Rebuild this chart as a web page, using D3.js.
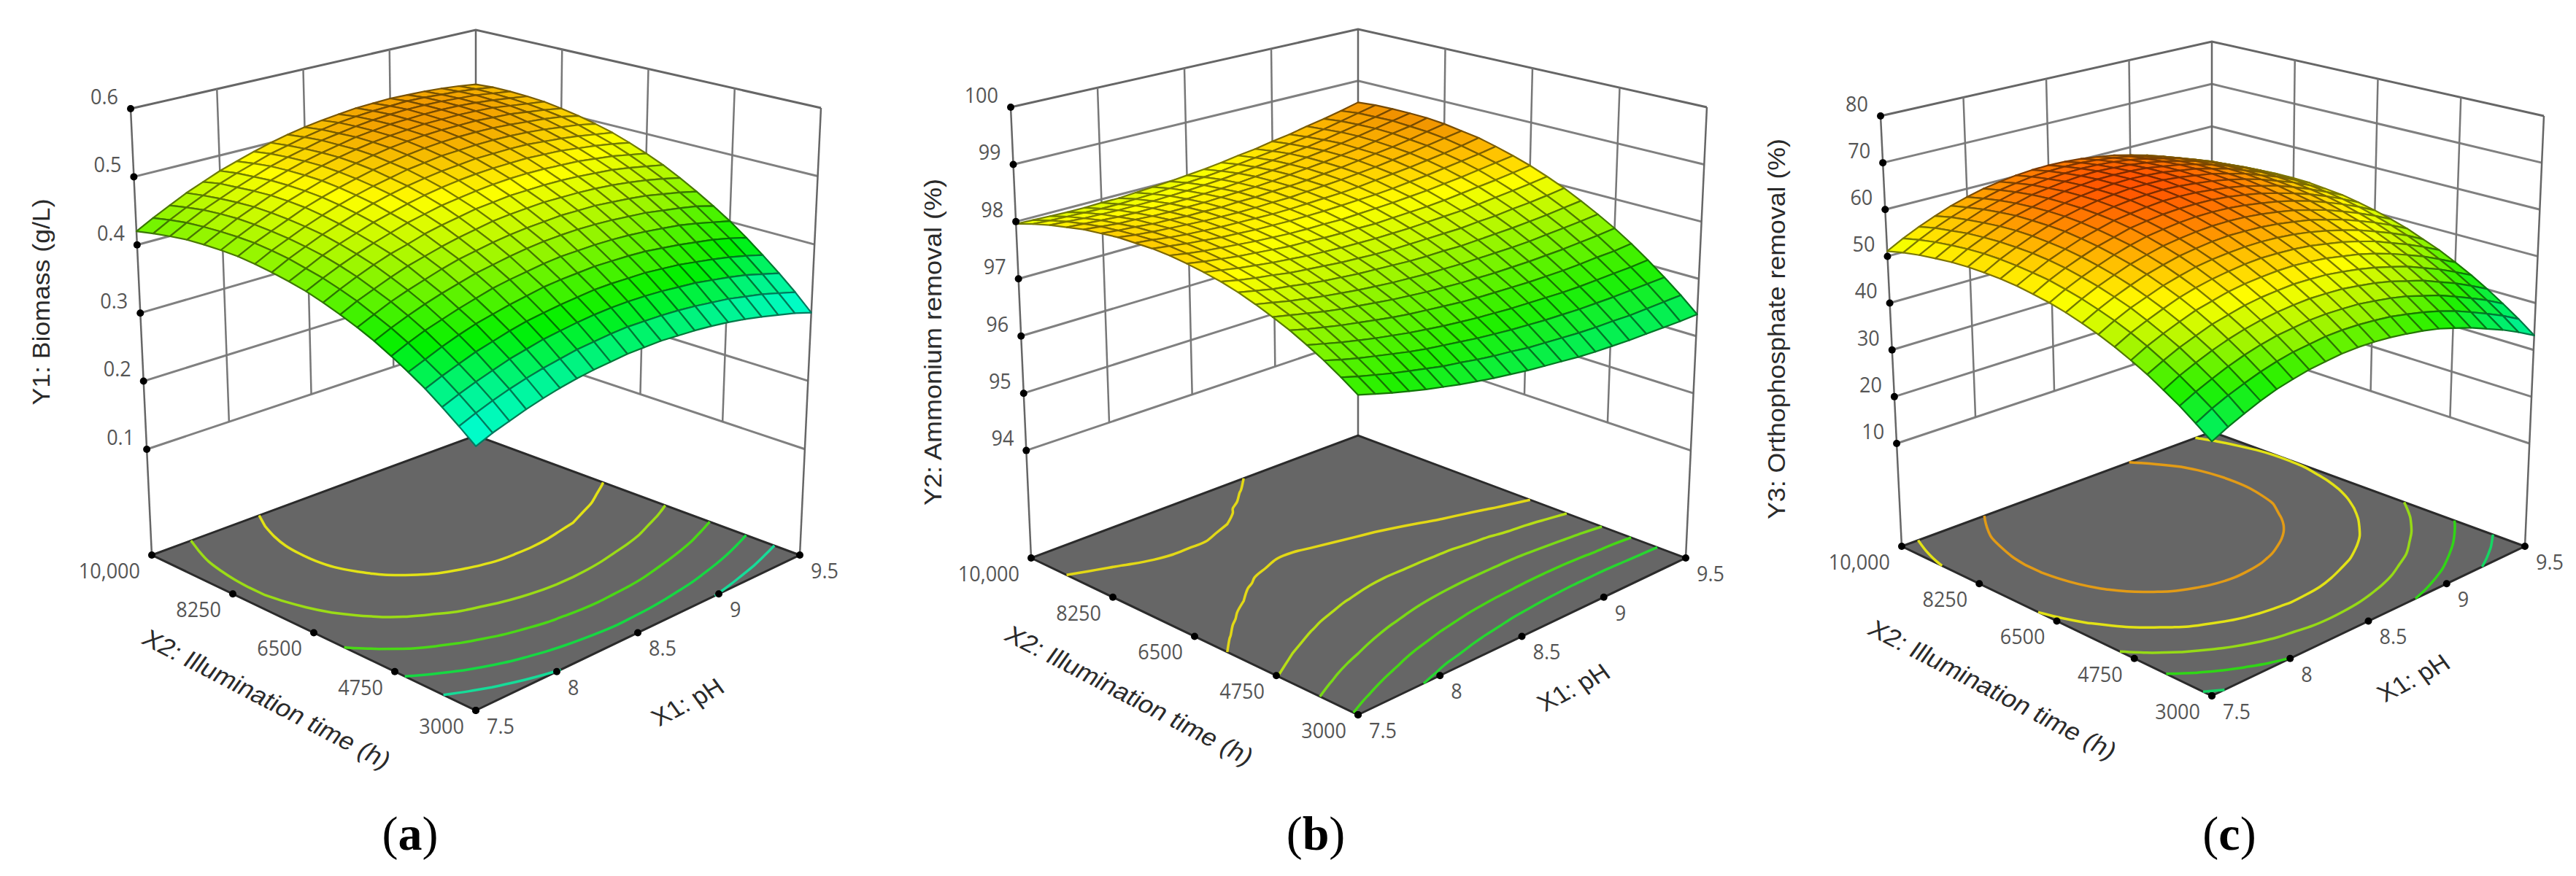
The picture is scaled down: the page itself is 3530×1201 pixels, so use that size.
<!DOCTYPE html>
<html>
<head>
<meta charset="utf-8">
<title>Response surfaces</title>
<script src="https://cdn.jsdelivr.net/npm/d3@7"></script>
<style>
  html, body { margin: 0; background: #fff; }
  svg { display: block; }
</style>
</head>
<body>
<div id="chart"></div>
<script>
// axis ticks
const x1Ticks = [7.5, 8, 8.5, 9, 9.5];
const x2Ticks = [3000, 4750, 6500, 8250, 10000];
const x2TickLabels = ["3000", "4750", "6500", "8250", "10,000"];
const biomassTicks = [0.1, 0.2, 0.3, 0.4, 0.5, 0.6];
const ammoniumTicks = [94, 95, 96, 97, 98, 99, 100];
const orthoTicks = [10, 20, 30, 40, 50, 60, 70, 80];

// floor contour levels
const biomassLevels = [0.49, 0.45, 0.41, 0.37, 0.335];
const ammoniumLevels = [98.15, 97.85, 97.5, 97.15, 96.8];
const orthoLevels = [58.5, 53, 48, 43, 38];

// surface values: one row per X2 step (3000 -> 10000), one column per X1 step (7.5 -> 9.5)
const biomassGrid = [
  [.300,.309,.316,.323,.329,.334,.338,.341,.343,.345,.345,.345,.343,.341,.338,.334,.329,.323,.316,.309,.300],
  [.318,.327,.335,.342,.348,.353,.357,.361,.363,.365,.366,.365,.364,.362,.359,.355,.351,.345,.339,.331,.323],
  [.335,.344,.352,.359,.366,.371,.376,.379,.382,.384,.385,.385,.384,.382,.379,.376,.371,.366,.360,.352,.344],
  [.351,.360,.368,.376,.382,.388,.393,.396,.399,.401,.403,.403,.402,.401,.398,.395,.390,.385,.379,.372,.364],
  [.365,.374,.383,.391,.398,.403,.408,.412,.416,.418,.419,.420,.419,.418,.416,.412,.408,.403,.398,.391,.383],
  [.378,.388,.397,.404,.411,.417,.423,.427,.430,.433,.435,.435,.435,.434,.432,.429,.425,.421,.415,.408,.401],
  [.390,.400,.409,.417,.424,.430,.436,.440,.444,.447,.449,.450,.450,.449,.447,.444,.441,.436,.431,.425,.417],
  [.400,.410,.420,.428,.435,.442,.448,.452,.456,.459,.461,.462,.463,.462,.461,.458,.455,.451,.445,.439,.432],
  [.409,.420,.429,.438,.446,.452,.458,.463,.467,.471,.473,.474,.475,.474,.473,.471,.468,.464,.459,.453,.446],
  [.417,.428,.438,.447,.455,.461,.468,.473,.477,.481,.483,.485,.485,.485,.484,.482,.479,.476,.471,.465,.459],
  [.424,.435,.445,.454,.462,.469,.476,.481,.486,.489,.492,.494,.495,.495,.494,.492,.490,.486,.482,.476,.470],
  [.429,.440,.451,.460,.468,.476,.482,.488,.493,.497,.500,.502,.503,.503,.503,.501,.499,.495,.491,.486,.480],
  [.433,.445,.455,.465,.473,.481,.488,.494,.499,.503,.506,.508,.510,.510,.510,.509,.506,.503,.499,.494,.489],
  [.436,.448,.458,.468,.477,.485,.492,.498,.503,.508,.511,.514,.515,.516,.516,.515,.513,.510,.506,.502,.496],
  [.438,.450,.460,.470,.480,.488,.495,.501,.507,.511,.515,.518,.520,.521,.521,.520,.518,.515,.512,.508,.502],
  [.438,.450,.461,.471,.481,.489,.497,.503,.509,.514,.518,.521,.523,.524,.524,.524,.522,.520,.516,.512,.507],
  [.437,.449,.461,.471,.481,.489,.497,.504,.510,.515,.519,.522,.524,.526,.526,.526,.525,.523,.519,.515,.511],
  [.435,.447,.459,.469,.479,.488,.496,.503,.509,.514,.519,.522,.525,.526,.527,.527,.526,.524,.521,.517,.513],
  [.431,.444,.456,.466,.476,.485,.494,.501,.507,.513,.517,.521,.524,.526,.527,.527,.526,.524,.522,.518,.514],
  [.426,.439,.451,.462,.473,.482,.490,.498,.504,.510,.515,.519,.522,.524,.525,.526,.525,.523,.521,.518,.514],
  [.420,.433,.445,.457,.467,.477,.485,.493,.500,.506,.511,.515,.518,.521,.522,.523,.522,.521,.519,.516,.512]
];
const ammoniumGrid = [
  [97.10,97.02,96.94,96.87,96.80,96.74,96.68,96.63,96.58,96.54,96.50,96.47,96.44,96.41,96.39,96.38,96.37,96.37,96.37,96.37,96.38],
  [97.28,97.20,97.13,97.06,97.00,96.94,96.88,96.84,96.79,96.75,96.72,96.68,96.66,96.64,96.62,96.61,96.61,96.60,96.61,96.62,96.63],
  [97.45,97.37,97.30,97.24,97.18,97.12,97.07,97.03,96.99,96.95,96.92,96.89,96.87,96.85,96.84,96.83,96.83,96.83,96.84,96.85,96.86],
  [97.60,97.53,97.46,97.40,97.34,97.29,97.24,97.20,97.16,97.13,97.10,97.08,97.06,97.05,97.04,97.03,97.03,97.04,97.05,97.06,97.08],
  [97.74,97.67,97.61,97.55,97.50,97.45,97.40,97.36,97.33,97.30,97.27,97.25,97.24,97.23,97.22,97.22,97.22,97.23,97.25,97.26,97.29],
  [97.86,97.80,97.74,97.68,97.63,97.59,97.55,97.51,97.48,97.45,97.43,97.41,97.40,97.39,97.39,97.39,97.40,97.41,97.43,97.45,97.48],
  [97.97,97.91,97.85,97.80,97.75,97.71,97.67,97.64,97.61,97.59,97.57,97.56,97.55,97.55,97.55,97.55,97.56,97.58,97.60,97.62,97.65],
  [98.07,98.01,97.95,97.91,97.86,97.82,97.79,97.76,97.74,97.72,97.70,97.69,97.69,97.68,97.69,97.70,97.71,97.73,97.75,97.78,97.81],
  [98.15,98.09,98.04,98.00,97.95,97.92,97.89,97.86,97.84,97.82,97.81,97.81,97.81,97.81,97.81,97.83,97.84,97.87,97.89,97.92,97.96],
  [98.21,98.16,98.11,98.07,98.03,98.00,97.97,97.95,97.93,97.92,97.91,97.91,97.91,97.92,97.93,97.94,97.96,97.99,98.02,98.05,98.09],
  [98.26,98.21,98.17,98.13,98.10,98.07,98.04,98.03,98.01,98.00,98.00,97.99,98.00,98.01,98.02,98.04,98.07,98.10,98.13,98.17,98.21],
  [98.30,98.25,98.21,98.18,98.15,98.12,98.10,98.08,98.07,98.07,98.06,98.07,98.08,98.09,98.11,98.13,98.16,98.19,98.23,98.27,98.31],
  [98.32,98.28,98.24,98.21,98.18,98.16,98.14,98.13,98.12,98.12,98.12,98.13,98.14,98.15,98.17,98.20,98.23,98.27,98.31,98.35,98.40],
  [98.32,98.29,98.25,98.22,98.20,98.18,98.17,98.16,98.15,98.15,98.16,98.17,98.18,98.20,98.23,98.26,98.29,98.33,98.37,98.42,98.48],
  [98.32,98.28,98.25,98.23,98.21,98.19,98.18,98.17,98.17,98.18,98.18,98.20,98.22,98.24,98.27,98.30,98.34,98.38,98.43,98.48,98.53],
  [98.29,98.26,98.24,98.21,98.20,98.18,98.18,98.17,98.18,98.18,98.20,98.21,98.23,98.26,98.29,98.33,98.37,98.41,98.46,98.52,98.58],
  [98.26,98.23,98.20,98.19,98.17,98.16,98.16,98.16,98.17,98.18,98.19,98.21,98.24,98.27,98.30,98.34,98.38,98.43,98.49,98.54,98.61],
  [98.20,98.18,98.16,98.14,98.13,98.13,98.13,98.13,98.14,98.15,98.17,98.20,98.23,98.26,98.30,98.34,98.39,98.44,98.50,98.56,98.62],
  [98.14,98.12,98.10,98.09,98.08,98.08,98.08,98.09,98.10,98.12,98.14,98.17,98.20,98.24,98.28,98.32,98.37,98.43,98.49,98.55,98.62],
  [98.06,98.04,98.03,98.02,98.01,98.01,98.02,98.03,98.05,98.07,98.09,98.12,98.16,98.20,98.24,98.29,98.34,98.40,98.47,98.54,98.61],
  [97.96,97.95,97.94,97.93,97.93,97.94,97.94,97.96,97.98,98.00,98.03,98.06,98.10,98.15,98.19,98.25,98.30,98.37,98.43,98.50,98.58]
];
const orthoGrid = [
  [36.7,38.3,39.7,41.0,42.1,42.9,43.6,44.0,44.4,44.5,44.4,44.1,43.6,43.0,42.2,41.1,39.9,38.4,36.9,35.1,33.1],
  [39.0,40.7,42.1,43.3,44.4,45.3,46.0,46.4,46.8,46.9,46.8,46.5,46.1,45.4,44.6,43.6,42.4,40.9,39.3,37.6,35.6],
  [41.2,42.8,44.2,45.5,46.6,47.5,48.2,48.6,49.0,49.1,49.0,48.8,48.3,47.7,46.9,45.8,44.7,43.2,41.6,39.9,37.9],
  [43.1,44.8,46.2,47.5,48.6,49.5,50.2,50.7,51.0,51.2,51.1,50.9,50.4,49.8,49.0,47.9,46.8,45.3,43.8,42.0,40.1],
  [45.0,46.6,48.1,49.3,50.5,51.3,52.1,52.6,52.9,53.1,53.0,52.8,52.3,51.7,50.9,49.9,48.8,47.3,45.8,44.0,42.1],
  [46.6,48.3,49.7,51.0,52.2,53.0,53.8,54.3,54.6,54.8,54.8,54.5,54.1,53.4,52.7,51.7,50.5,49.1,47.6,45.8,43.9],
  [48.1,49.8,51.2,52.5,53.7,54.6,55.3,55.8,56.2,56.4,56.3,56.1,55.7,55.0,54.3,53.3,52.2,50.7,49.2,47.5,45.6],
  [49.4,51.1,52.6,53.8,55.0,55.9,56.7,57.2,57.5,57.7,57.7,57.5,57.1,56.5,55.7,54.7,53.6,52.2,50.7,49.0,47.0],
  [50.5,52.2,53.7,55.0,56.2,57.1,57.9,58.4,58.8,59.0,58.9,58.7,58.3,57.7,57.0,56.0,54.9,53.5,52.0,50.3,48.4],
  [51.5,53.2,54.7,56.0,57.2,58.1,58.9,59.4,59.8,60.0,60.0,59.8,59.4,58.8,58.1,57.1,56.0,54.6,53.1,51.4,49.5],
  [52.3,54.0,55.5,56.8,58.0,59.0,59.8,60.3,60.7,60.9,60.9,60.7,60.3,59.7,59.0,58.1,57.0,55.6,54.1,52.4,50.5],
  [52.9,54.7,56.2,57.5,58.7,59.6,60.5,61.0,61.4,61.6,61.6,61.5,61.1,60.5,59.8,58.8,57.7,56.4,54.9,53.2,51.3],
  [53.4,55.1,56.7,58.0,59.2,60.1,61.0,61.5,61.9,62.2,62.2,62.0,61.6,61.1,60.4,59.4,58.4,57.0,55.5,53.8,52.0],
  [53.7,55.4,57.0,58.3,59.6,60.5,61.3,61.9,62.3,62.5,62.6,62.4,62.0,61.5,60.8,59.9,58.8,57.4,56.0,54.3,52.4],
  [53.8,55.6,57.1,58.5,59.7,60.7,61.5,62.1,62.5,62.8,62.8,62.7,62.3,61.7,61.1,60.1,59.1,57.7,56.3,54.6,52.8],
  [53.8,55.6,57.1,58.5,59.7,60.7,61.5,62.1,62.5,62.8,62.9,62.7,62.4,61.8,61.2,60.2,59.2,57.8,56.4,54.7,52.9],
  [53.6,55.4,56.9,58.3,59.6,60.5,61.4,62.0,62.4,62.7,62.7,62.6,62.3,61.7,61.1,60.2,59.1,57.8,56.4,54.7,52.9],
  [53.2,55.0,56.6,57.9,59.2,60.2,61.1,61.6,62.1,62.4,62.5,62.3,62.0,61.5,60.8,59.9,58.9,57.6,56.1,54.5,52.7],
  [52.7,54.5,56.0,57.4,58.7,59.7,60.6,61.2,61.6,61.9,62.0,61.9,61.6,61.1,60.4,59.5,58.5,57.2,55.8,54.1,52.3],
  [52.0,53.8,55.4,56.8,58.0,59.0,59.9,60.5,61.0,61.3,61.4,61.3,61.0,60.5,59.9,58.9,57.9,56.6,55.2,53.6,51.8],
  [51.1,52.9,54.5,55.9,57.2,58.2,59.1,59.7,60.2,60.5,60.6,60.5,60.2,59.7,59.1,58.2,57.2,55.9,54.5,52.9,51.1]
];

const width = 3530, height = 1201;

// where each box sits on the page (floor and top corners) plus text spots
const panels = [
  {
    grid: biomassGrid, ticks: biomassTicks, levels: biomassLevels, tickFormat: d3.format(".1f"),
    floor: { front: [652, 974], right: [1096, 761], left: [208, 761], back: [652, 597] },
    top: { front: [652, 306], right: [1125, 148], left: [179, 149], back: [652, 41] },
    lowTick: 0.237,
    colorDomain: [0.30, 0.345, 0.385, 0.44, 0.49, 0.53],
    colorRange: ["#00ffe0", "#00f590", "#00f000", "#90f500", "#ffff00", "#f09000"],
    yTitle: "Y1: Biomass (g/L)", yPos: [56, 414], yLen: 283,
    x2Pos: [366, 958], x1Pos: [942, 962], tag: "a", tagPos: [562, 1143]
  },
  {
    grid: ammoniumGrid, ticks: ammoniumTicks, levels: ammoniumLevels, tickFormat: d3.format("d"),
    floor: { front: [1861, 980], right: [2310, 765], left: [1413, 765], back: [1861, 597] },
    top: { front: [1861, 286], right: [2339, 147], left: [1385, 147], back: [1861, 40] },
    lowTick: 0.2385,
    colorDomain: [96.4, 97, 97.6, 98.1, 98.35, 98.6],
    colorRange: ["#00f060", "#20f000", "#90f500", "#ffff00", "#ffc000", "#f09000"],
    yTitle: "Y2: Ammonium removal (%)", yPos: [1278, 469], yLen: 448,
    x2Pos: [1548, 953], x1Pos: [2156, 942], tag: "b", tagPos: [1803, 1143]
  },
  {
    grid: orthoGrid, ticks: orthoTicks, levels: orthoLevels, tickFormat: d3.format("d"),
    floor: { front: [3031, 954], right: [3460, 749], left: [2606, 749], back: [3031, 592] },
    top: { front: [3031, 295], right: [3486, 159], left: [2577, 159], back: [3031, 57] },
    lowTick: 0.239,
    colorDomain: [33, 38, 43, 48, 53, 58, 63],
    colorRange: ["#00f0b0", "#00f060", "#20f000", "#a0f500", "#ffff00", "#ffb000", "#ff5000"],
    yTitle: "Y3: Orthophosphate removal (%)", yPos: [2434, 451], yLen: 522,
    x2Pos: [2731, 945], x1Pos: [3307, 929], tag: "c", tagPos: [3055, 1143]
  }
];

const svg = d3.select("#chart").append("svg")
  .attr("width", width)
  .attr("height", height)
  .style("background", "#fff");

const lineGen = d3.line();

function lerp(a, b, t) { return a + (b - a) * t; }

function drawPanel(p) {
  const g = svg.append("g");
  const n = p.grid[0].length;

  // s runs along X1, r along X2, t up the box
  const sScale = d3.scaleLinear().domain(d3.extent(x1Ticks)).range([0, 1]);
  const rScale = d3.scaleLinear().domain(d3.extent(x2Ticks)).range([0, 1]);
  const tScale = d3.scaleLinear().domain(d3.extent(p.ticks)).range([p.lowTick, 1]);
  const sIndex = d3.scaleLinear().domain([0, n - 1]).range(d3.extent(x1Ticks));
  const rIndex = d3.scaleLinear().domain([0, n - 1]).range(d3.extent(x2Ticks));
  const color = d3.scaleLinear().domain(p.colorDomain).range(p.colorRange).clamp(true);

  function corner(c, s, r, k) {
    const a = lerp(c.front[k], c.right[k], s);
    const b = lerp(c.left[k], c.back[k], s);
    return lerp(a, b, r);
  }
  function project(s, r, t) {
    return [
      lerp(corner(p.floor, s, r, 0), corner(p.top, s, r, 0), t),
      lerp(corner(p.floor, s, r, 1), corner(p.top, s, r, 1), t)
    ];
  }

  const zLow = d3.min(p.ticks), zHigh = d3.max(p.ticks);

  // back walls: horizontal grid
  const hLines = [];
  p.ticks.forEach(z => {
    const t = tScale(z);
    hLines.push({ pts: [project(0, 1, t), project(1, 1, t), project(1, 0, t)], top: z === zHigh });
  });
  g.append("g").selectAll("path").data(hLines).join("path")
    .attr("d", d => lineGen(d.pts))
    .attr("fill", "none")
    .attr("stroke", d => d.top ? "#666" : "#808080")
    .attr("stroke-width", 3);

  // back walls: vertical grid, stops at the lowest tick
  const vLines = [];
  x1Ticks.slice(1, -1).forEach(x => vLines.push([project(sScale(x), 1, tScale(zLow)), project(sScale(x), 1, 1)]));
  x2Ticks.slice(1, -1).forEach(x => vLines.push([project(1, rScale(x), tScale(zLow)), project(1, rScale(x), 1)]));
  g.append("g").selectAll("path").data(vLines).join("path")
    .attr("d", d => lineGen(d))
    .attr("fill", "none")
    .attr("stroke", "#777")
    .attr("stroke-width", 2.5);

  // the three corner posts go down to the floor
  const posts = [[0, 1], [1, 1], [1, 0]].map(c => [project(c[0], c[1], 0), project(c[0], c[1], 1)]);
  g.append("g").selectAll("path").data(posts).join("path")
    .attr("d", d => lineGen(d))
    .attr("fill", "none")
    .attr("stroke", "#666")
    .attr("stroke-width", 2.5);

  // floor
  g.append("path")
    .attr("d", lineGen([project(0, 0, 0), project(1, 0, 0), project(1, 1, 0), project(0, 1, 0)]) + "Z")
    .attr("fill", "#666")
    .attr("stroke", "#2b2b2b")
    .attr("stroke-width", 3);

  // floor contours, from d3.contours on the same grid
  const flat = d3.merge(p.grid);
  const contours = d3.contours().size([n, n]).thresholds(p.levels)(flat);
  const pieces = [];
  contours.forEach(c => {
    c.coordinates.forEach(poly => poly.forEach(ring => {
      const pts = ring.map(q => [
        Math.max(0, Math.min(n - 1, q[0] - 0.5)),
        Math.max(0, Math.min(n - 1, q[1] - 0.5))
      ]);
      let cur = [];
      for (let i = 1; i < pts.length; i++) {
        const a = pts[i - 1], b = pts[i];
        const edge = (a[0] === b[0] && (a[0] === 0 || a[0] === n - 1)) ||
                     (a[1] === b[1] && (a[1] === 0 || a[1] === n - 1));
        if (edge) {
          if (cur.length > 1) pieces.push({ level: c.value, pts: cur });
          cur = [];
        } else {
          if (!cur.length) cur.push(a);
          cur.push(b);
        }
      }
      if (cur.length > 1) pieces.push({ level: c.value, pts: cur });
    }));
  });
  g.append("g").selectAll("path").data(pieces).join("path")
    .attr("d", d => d3.line().curve(d3.curveCatmullRom)(d.pts.map(q =>
      project(sScale(sIndex(q[0])), rScale(rIndex(q[1])), 0))))
    .attr("fill", "none")
    .attr("stroke", d => d3.interpolateRgb(color(d.level), "#707070")(0.2))
    .attr("stroke-width", 3.5);

  // surface cells, far corner first
  const cells = [];
  for (let j = 0; j < n - 1; j++) {
    for (let i = 0; i < n - 1; i++) {
      cells.push({ i, j, z: (p.grid[j][i] + p.grid[j][i + 1] + p.grid[j + 1][i] + p.grid[j + 1][i + 1]) / 4 });
    }
  }
  cells.sort((a, b) => (b.i + b.j) - (a.i + a.j));
  const vertex = (i, j) => project(sScale(sIndex(i)), rScale(rIndex(j)), tScale(p.grid[j][i]));
  g.append("g").selectAll("path").data(cells).join("path")
    .attr("d", d => lineGen([vertex(d.i, d.j), vertex(d.i + 1, d.j), vertex(d.i + 1, d.j + 1), vertex(d.i, d.j + 1)]) + "Z")
    .attr("fill", d => color(d.z))
    .attr("stroke", d => d3.rgb(color(d.z)).darker(2))
    .attr("stroke-width", 2.2)
    .attr("stroke-linejoin", "round");

  // tick dots
  const dots = [];
  p.ticks.forEach(z => dots.push(project(0, 1, tScale(z))));
  x1Ticks.forEach(x => dots.push(project(sScale(x), 0, 0)));
  x2Ticks.forEach(x => dots.push(project(0, rScale(x), 0)));
  g.append("g").selectAll("circle").data(dots).join("circle")
    .attr("cx", d => d[0])
    .attr("cy", d => d[1])
    .attr("r", 5)
    .attr("fill", "#000");

  // tick labels, squeezed a little like the narrow face in the figure
  const labels = g.append("g")
    .attr("font-family", "'Open Sans', sans-serif")
    .attr("font-size", 30)
    .attr("fill", "#555");
  labels.selectAll("text.z").data(p.ticks).join("text")
    .attr("class", "z")
    .attr("x", d => project(0, 1, tScale(d))[0] - 17)
    .attr("y", d => project(0, 1, tScale(d))[1] - 17)
    .attr("dy", "0.36em")
    .attr("text-anchor", "end")
    .text(p.tickFormat);
  labels.selectAll("text.x1").data(x1Ticks).join("text")
    .attr("class", "x1")
    .attr("x", d => project(sScale(d), 0, 0)[0] + 15)
    .attr("y", d => project(sScale(d), 0, 0)[1] + 21)
    .attr("dy", "0.36em")
    .attr("text-anchor", "start")
    .text(d => d);
  labels.selectAll("text.x2").data(x2Ticks).join("text")
    .attr("class", "x2")
    .attr("x", d => project(0, rScale(d), 0)[0] - 16)
    .attr("y", d => project(0, rScale(d), 0)[1] + 21)
    .attr("dy", "0.36em")
    .attr("text-anchor", "end")
    .text((d, i) => x2TickLabels[i]);
  labels.selectAll("text").each(function() {
    d3.select(this)
      .attr("textLength", this.getComputedTextLength() * 0.9)
      .attr("lengthAdjust", "spacingAndGlyphs");
  });

  // axis titles
  const titles = g.append("g")
    .attr("font-family", "'Liberation Sans', Arial, sans-serif")
    .attr("font-size", 34)
    .attr("fill", "#2a2a2a")
    .attr("text-anchor", "middle");
  titles.append("text")
    .attr("transform", `translate(${p.yPos[0]},${p.yPos[1]}) rotate(-90)`)
    .attr("dy", "0.36em")
    .attr("textLength", p.yLen)
    .attr("lengthAdjust", "spacingAndGlyphs")
    .text(p.yTitle);
  titles.append("text")
    .attr("transform", `translate(${p.x2Pos[0]},${p.x2Pos[1]}) rotate(27.5) skewX(-8)`)
    .attr("dy", "0.36em")
    .attr("textLength", 376)
    .attr("lengthAdjust", "spacingAndGlyphs")
    .text("X2: Illumination time (h)");
  titles.append("text")
    .attr("transform", `translate(${p.x1Pos[0]},${p.x1Pos[1]}) rotate(-28) skewX(8)`)
    .attr("dy", "0.36em")
    .attr("textLength", 104)
    .attr("lengthAdjust", "spacingAndGlyphs")
    .text("X1: pH");

  // (a) (b) (c)
  const tag = g.append("text")
    .attr("x", p.tagPos[0])
    .attr("y", p.tagPos[1])
    .attr("dy", "0.33em")
    .attr("text-anchor", "middle")
    .attr("font-family", "'Liberation Serif', serif")
    .attr("font-size", 66)
    .attr("fill", "#000");
  tag.append("tspan").text("(");
  tag.append("tspan").attr("font-weight", "bold").text(p.tag);
  tag.append("tspan").text(")");
}

panels.forEach(drawPanel);
</script>
</body>
</html>
